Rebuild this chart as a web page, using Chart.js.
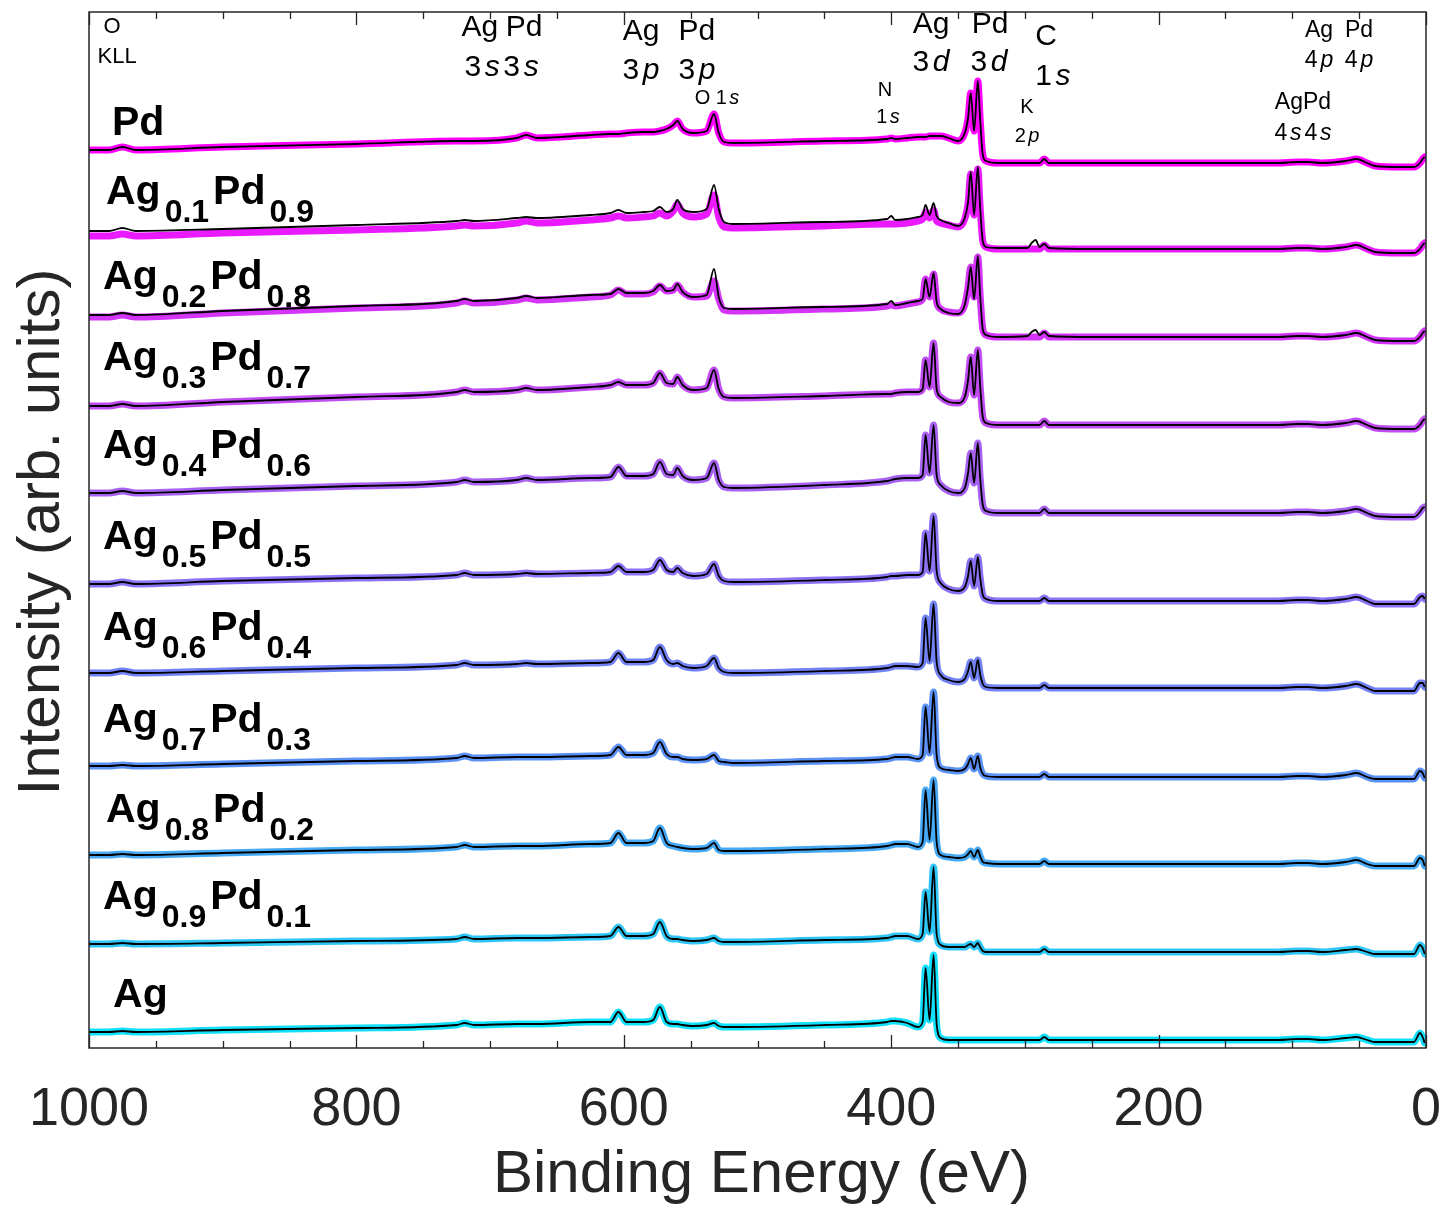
<!DOCTYPE html>
<html><head><meta charset="utf-8">
<script src="https://cdn.jsdelivr.net/npm/chart.js@4/dist/chart.umd.min.js"></script>
<style>html,body{margin:0;padding:0;background:#fff}#wrap{width:1442px;height:1206px;position:relative}</style>
</head><body><div id="wrap"><canvas id="c"></canvas></div>
<script>
// ---------------- DATA ----------------
// binding energy grid (eV), shared by all spectra
const energy = [1000, 985, 975, 965, 900, 800, 725, 719, 712, 680, 673, 665, 625,
  610, 604, 598, 585, 578, 573, 568, 563, 560, 556, 548, 538, 532.5, 529, 525, 518,
  450, 403, 400, 397, 388, 380, 376.5, 374.3, 371.3, 368.3, 366, 363, 357, 350,
  345, 342.5, 340.5, 338, 335.2, 333.5, 331.5, 329, 320,
  298, 295, 292, 289, 285.5, 282, 250, 150,
  110, 97, 88, 78, 60, 52, 44, 38, 20, 9, 4.5, 2.5, 1];

const seriesNames = ['Pd', 'Ag0.1Pd0.9', 'Ag0.2Pd0.8', 'Ag0.3Pd0.7', 'Ag0.4Pd0.6', 'Ag0.5Pd0.5',
  'Ag0.6Pd0.4', 'Ag0.7Pd0.3', 'Ag0.8Pd0.2', 'Ag0.9Pd0.1', 'Ag'];
// vertical stacking offsets (arb. units)
const offsets = [885, 799, 711, 623, 535, 447, 360, 271, 184, 96, 8];

// intensities above each spectrum's offset (arb. units), thick coloured curves
const iPd = [13,13,16,13,16,19,22,22,22,25,28,25,28,
  29,29,30,31,31,32,34,38,42,34,30,32,49,30,21,20,
  22,24,25,24,25,26,26,26,27,27,27,27,25,22,
  30,45,70,32,82,45,8,2,0,
  0,0,0,0,4,0,0,0,
  0,1,1,0,2,4,0,-3,-4,-4,0,4,6];
const iAg01 = [13,13,15,13,16,19,23,24,23,26,28,26,29,
  31,33,31,32,33,36,33,38,45,36,32,35,54,32,22,21,
  23,25,25,25,26,28,30,37,31,39,28,26,24,22,
  30,46,75,34,80,42,8,2,0,
  0,0,0,0,4,0,0,0,
  0,1,1,0,2,4,0,-3,-4,-4,0,4,6];
const iAg02 = [20,20,22,20,24,29,34,36,34,37,39,37,40,
  42,47,43,43,45,51,46,47,52,45,40,41,56,38,27,26,
  28,31,32,31,33,35,38,58,40,63,35,28,25,24,
  32,50,70,40,80,42,8,2,0,
  0,0,0,0,4,0,0,0,
  0,1,1,0,2,4,0,-3,-4,-4,0,4,6];
const iAg03 = [19,19,21,19,23,28,33,35,33,35,37,35,38,
  40,43,40,40,42,52,42,41,48,40,35,37,55,36,28,27,
  29,31,31,32,33,33,36,65,38,82,36,28,23,22,
  28,45,68,30,75,40,8,2,0,
  0,0,0,0,4,0,0,0,
  0,1,1,0,2,4,0,-3,-4,-4,0,4,6];
const iAg04 = [20,20,22,20,23,27,31,33,31,33,35,33,35,
  36,46,37,37,39,51,39,38,45,37,33,35,50,33,26,25,
  28,32,33,34,35,35,38,78,40,88,38,28,22,20,
  25,40,60,30,70,36,8,2,0,
  0,0,0,0,4,0,0,0,
  0,1,1,0,2,4,0,-3,-4,-4,1,5,6];
const iAg05 = [17,17,19,17,20,23,26,28,26,27,28,27,28,
  29,35,29,29,31,41,31,29,33,28,25,27,37,25,20,19,
  21,24,25,25,26,26,29,68,30,85,30,18,12,10,
  14,25,40,15,44,24,6,2,0,
  0,0,0,0,3,0,0,0,
  0,1,1,0,2,4,0,-3,-3,-3,4,5,2];
const iAg06 = [15,15,17,15,17,20,23,25,23,24,25,24,25,
  26,35,26,26,28,41,28,24,25,22,20,22,30,20,16,15,
  17,20,21,22,22,21,25,70,27,84,26,13,8,6,
  9,17,26,10,28,14,4,1,0,
  0,0,0,0,3,0,0,0,
  0,1,1,0,2,4,0,-3,-3,-3,5,5,1];
const iAg07 = [11,11,12,11,13,16,19,21,19,20,20,20,21,
  22,30,22,22,24,35,23,20,20,18,17,18,22,16,15,14,
  16,18,19,20,20,18,22,70,24,85,22,9,7,6,
  8,13,19,8,21,10,3,1,0,
  0,0,0,0,3,0,0,0,
  0,1,1,0,2,4,0,-2,-2,-2,6,4,-1];
const iAg08 = [9,9,10,9,11,14,17,19,17,18,18,18,20,
  21,31,21,21,23,36,21,18,17,16,15,16,21,14,13,13,
  15,18,19,20,20,17,22,74,24,84,22,9,7,6,
  7,10,13,7,14,8,2,1,0,
  0,0,0,0,3,0,0,0,
  0,1,1,0,2,4,0,-2,-2,-2,6,4,-2];
const iAg09 = [8,8,9,8,9,11,13,15,13,14,14,14,15,
  16,25,16,16,18,30,16,13,13,12,11,12,14,11,10,10,
  12,14,15,16,16,13,18,60,20,85,18,7,5,5,
  5,7,8,5,9,5,1,0,0,
  0,0,0,0,3,0,0,0,
  0,1,1,0,2,3,0,-2,-2,-2,7,4,-2];
const iAg = [8,8,9,8,10,12,15,17,15,16,16,16,18,
  18,28,18,18,20,33,18,16,16,15,14,15,17,14,13,13,
  15,18,19,19,17,13,18,72,20,85,16,2,0,0,
  0,0,0,0,0,0,0,0,0,
  0,0,0,0,3,0,0,0,
  0,1,1,0,2,3,0,-2,-2,-2,7,3,-3];
// thin black curves that differ from the coloured ones
const rawAg01 = [18,18,21,18,20,24,28,29,28,31,32,31,34,
  36,39,36,37,38,42,37,40,49,40,37,40,64,40,27,25,
  27,30,33,29,30,32,34,44,34,46,33,29,26,23,
  31,47,77,34,82,42,8,2,1,
  1,6,9,2,5,1,0,0,
  0,1,1,0,2,4,0,-3,-4,-4,0,4,6];
const rawAg02 = [22,22,24,22,26,31,36,38,36,39,41,39,42,
  43,48,44,44,46,52,46,47,53,45,40,42,68,40,29,28,
  30,33,36,32,34,36,38,58,40,64,35,28,24,23,
  32,50,70,38,81,42,8,2,0,
  1,5,7,2,5,1,0,0,
  0,1,1,0,2,4,0,-3,-4,-4,0,4,6];

const smooth = [iPd, iAg01, iAg02, iAg03, iAg04, iAg05, iAg06, iAg07, iAg08, iAg09, iAg];
const raw = [iPd, rawAg01, rawAg02, iAg03, iAg04, iAg05, iAg06, iAg07, iAg08, iAg09, iAg];

const xTickLabels = [1000, 800, 600, 400, 200, 0];

// ---------------- STYLE / PLACEMENT ----------------
const FONT = '"Liberation Sans", Arial, Helvetica, sans-serif';
const AXIS = '#262626';
const lineColors = ['#ff00ff', '#ea1aff', '#d433f8', '#c04cf2', '#a862f2', '#8c72f5',
  '#7282f5', '#5c92f6', '#46a9f6', '#2ec6f6', '#12e0fa'];
const labelE = [982.8, 987.3, 989.5, 989.5, 989.5, 989.5, 989.5, 989.5, 987.3, 989.5, 982];
const labelLift = [28, 45, 48, 55, 55, 52, 48, 45, 42, 43, 33];
const peakNotes = [
  {e: 982.8, v: 1021, s: 22, p: [['O']]},
  {e: 979, v: 991, s: 22, p: [['KLL']]},
  {e: 707.6, v: 1020, s: 30, p: [['Ag']]},
  {e: 674.6, v: 1020, s: 30, p: [['Pd']]},
  {e: 706, v: 980, s: 30, p: [['3'], ['s', 1]]},
  {e: 676.9, v: 980, s: 30, p: [['3'], ['s', 1]]},
  {e: 587.1, v: 1016, s: 30, p: [['Ag']]},
  {e: 545.3, v: 1016, s: 30, p: [['Pd']]},
  {e: 587.1, v: 977, s: 30, p: [['3'], ['p', 1]]},
  {e: 545.3, v: 977, s: 30, p: [['3'], ['p', 1]]},
  {e: 530.3, v: 950, s: 20, p: [['O 1'], ['s', 1]]},
  {e: 404.6, v: 958, s: 20, p: [['N']]},
  {e: 402.4, v: 931, s: 20, p: [['1'], ['s', 1]]},
  {e: 370.2, v: 1023, s: 30, p: [['Ag']]},
  {e: 326.1, v: 1023, s: 30, p: [['Pd']]},
  {e: 370.2, v: 985, s: 30, p: [['3'], ['d', 1]]},
  {e: 326.9, v: 985, s: 30, p: [['3'], ['d', 1]]},
  {e: 284.2, v: 1011, s: 30, p: [['C']]},
  {e: 279, v: 971, s: 30, p: [['1'], ['s', 1]]},
  {e: 298.4, v: 941, s: 20, p: [['K']]},
  {e: 298.4, v: 912, s: 20, p: [['2'], ['p', 1]]},
  {e: 80.0, v: 1017, s: 23, p: [['Ag']]},
  {e: 50.1, v: 1017, s: 23, p: [['Pd']]},
  {e: 80.0, v: 987, s: 23, p: [['4'], ['p', 1]]},
  {e: 50.1, v: 987, s: 23, p: [['4'], ['p', 1]]},
  {e: 92.0, v: 945, s: 23, p: [['AgPd']]},
  {e: 92.0, v: 914, s: 23, p: [['4'], ['s', 1], ['4'], ['s', 1]]}
];

const datasets = [];
seriesNames.forEach((name, k) => {
  datasets.push({
    label: name + ' (smoothed)',
    data: energy.map((e, i) => ({x: e, y: offsets[k] + smooth[k][i]})),
    borderColor: lineColors[k],
    borderWidth: 7,
    pointRadius: 0,
    cubicInterpolationMode: 'monotone',
    borderJoinStyle: 'round',
    borderCapStyle: 'round',
    fill: false,
    order: 2
  });
  datasets.push({
    label: name,
    data: energy.map((e, i) => ({x: e, y: offsets[k] + raw[k][i]})),
    borderColor: '#000',
    borderWidth: 1.8,
    pointRadius: 0,
    cubicInterpolationMode: 'monotone',
    fill: false,
    order: 1
  });
});

function drawRich(ctx, parts, cx, cy, size, bold) {
  const gap = size * 0.12;
  let total = 0;
  const widths = parts.map((pt, i) => {
    ctx.font = (pt[1] ? 'italic ' : '') + (bold ? 'bold ' : '') + size + 'px ' + FONT;
    const w = ctx.measureText(pt[0]).width;
    total += w + (i < parts.length - 1 ? gap : 0);
    return w;
  });
  let x = cx - total / 2;
  parts.forEach((pt, i) => {
    ctx.font = (pt[1] ? 'italic ' : '') + (bold ? 'bold ' : '') + size + 'px ' + FONT;
    ctx.fillText(pt[0], x, cy);
    x += widths[i] + gap;
  });
}

const overlay = {
  id: 'overlay',
  afterDraw(chart) {
    const {ctx, chartArea: a, scales: {x, y}} = chart;
    ctx.save();
    // box
    ctx.strokeStyle = AXIS;
    ctx.lineWidth = 1.5;
    ctx.strokeRect(a.left, a.top, a.right - a.left, a.bottom - a.top);
    // inward ticks
    ctx.lineWidth = 1.3;
    for (let v = 0; v <= 1000; v += 50) {
      const px = Math.round(x.getPixelForValue(v)) + 0.5;
      const len = v % 200 === 0 ? 13 : 7;
      ctx.beginPath();
      ctx.moveTo(px, a.bottom); ctx.lineTo(px, a.bottom - len);
      ctx.moveTo(px, a.top); ctx.lineTo(px, a.top + len);
      ctx.stroke();
    }
    // tick labels
    ctx.fillStyle = AXIS;
    ctx.textAlign = 'center';
    ctx.textBaseline = 'alphabetic';
    ctx.font = '54px ' + FONT;
    xTickLabels.forEach(v => ctx.fillText(String(v), x.getPixelForValue(v), a.bottom + 77));
    // axis titles
    ctx.font = '60px ' + FONT;
    ctx.fillText('Binding Energy (eV)', (a.left + a.right) / 2 + 4, a.bottom + 144);
    ctx.save();
    ctx.translate(59, 532);
    ctx.rotate(-Math.PI / 2);
    ctx.fillText('Intensity (arb. units)', 0, 0);
    ctx.restore();
    // peak annotations
    ctx.fillStyle = '#000';
    ctx.textAlign = 'left';
    ctx.textBaseline = 'middle';
    peakNotes.forEach(n => drawRich(ctx, n.p, x.getPixelForValue(n.e), y.getPixelForValue(n.v), n.s, false));
    // series labels with subscripts
    ctx.textBaseline = 'alphabetic';
    seriesNames.forEach((name, k) => {
      let px = x.getPixelForValue(labelE[k]);
      const base = y.getPixelForValue(offsets[k] + labelLift[k]);
      const re = /([A-Z][a-z])(\d\.\d)?/g;
      let m;
      while ((m = re.exec(name)) !== null) {
        ctx.font = 'bold 41px ' + FONT;
        ctx.fillText(m[1], px, base);
        px += ctx.measureText(m[1]).width + 4;
        if (m[2]) {
          ctx.font = 'bold 32px ' + FONT;
          ctx.fillText(m[2], px, base + 18);
          px += ctx.measureText(m[2]).width + 4;
        }
      }
    });
    ctx.restore();
  }
};

new Chart(document.getElementById('c'), {
  type: 'line',
  data: {datasets},
  options: {
    responsive: true,
    maintainAspectRatio: false,
    devicePixelRatio: 1,
    animation: false,
    events: [],
    layout: {padding: {left: 89, right: 16, top: 12, bottom: 158}},
    plugins: {legend: {display: false}, tooltip: {enabled: false}},
    scales: {
      x: {type: 'linear', min: 0, max: 1000, reverse: true, display: false},
      y: {type: 'linear', min: 0, max: 1036, display: false}
    }
  },
  plugins: [overlay]
});
</script></body></html>
